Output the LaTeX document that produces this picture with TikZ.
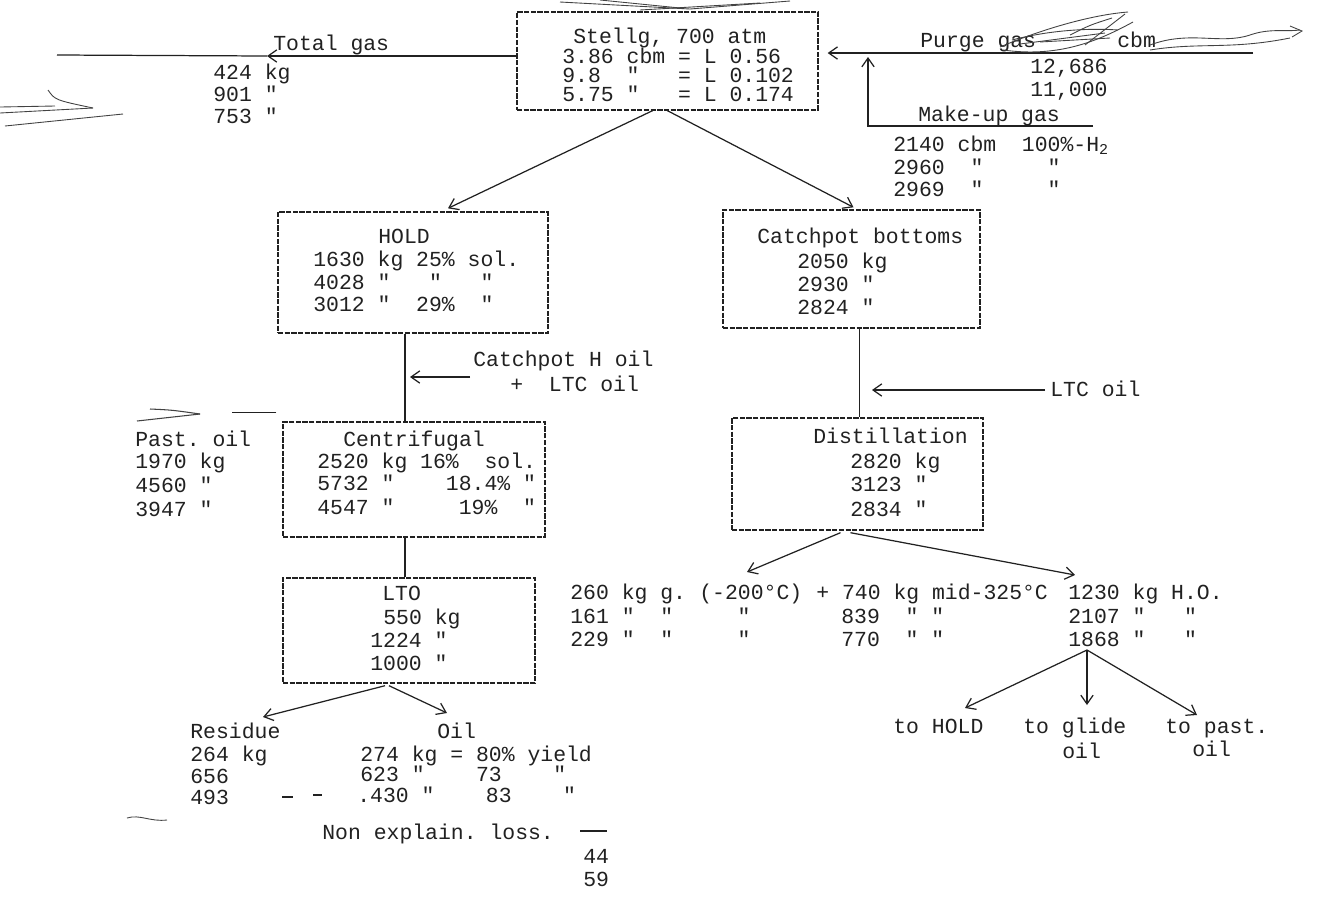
\documentclass[tikz,border=0pt]{standalone}
\usepackage{fontspec}
\setmonofont{Liberation Mono}
\usetikzlibrary{arrows.meta,calc}
\definecolor{ink}{gray}{0.13}
\frenchspacing
\begin{document}
\begin{tikzpicture}[x=0.02cm,y=-0.02cm,
  txt/.style={anchor=west,inner sep=0pt,text=ink,text height=9pt,text depth=2pt,font=\ttfamily\fontsize{12.2}{14}\selectfont},
  bx/.style={draw=ink,line width=0.8pt,dash pattern=on 3pt off 0.8pt,inner sep=0pt},
  arr/.style={draw=ink,line width=0.7pt,-{Straight Barb[length=5pt,width=7pt]}},
  ln/.style={draw=ink,line width=0.7pt},
  scrib/.style={draw=ink!85,line width=0.5pt}]
\useasboundingbox (0,0) rectangle (1323,897);
\fill[white] (0,0) rectangle (1323,897);

% ---------- boxes ----------
\node[bx,minimum width=6.02cm,minimum height=1.96cm] (stellg) at (667.5,61) {};
\node[bx,minimum width=5.40cm,minimum height=2.42cm] (hold) at (413,272.5) {};
\node[bx,minimum width=5.14cm,minimum height=2.36cm] (catch) at (851.5,269) {};
\node[bx,minimum width=5.24cm,minimum height=2.30cm] (cent) at (414,479.5) {};
\node[bx,minimum width=5.02cm,minimum height=2.24cm] (dist) at (857.5,474) {};
\node[bx,minimum width=5.04cm,minimum height=2.10cm] (lto) at (409,630.5) {};

% ---------- Stellg ----------
\node[txt] (st1) at (573,37) {Stellg,~700~atm};
\node[txt] (st2) at (562,57) {3.86~cbm~=~L~0.56};
\node[txt] (st3) at (562,76) {9.8~~"~~~=~L~0.102};
\node[txt] (st4) at (562,95) {5.75~"~~~=~L~0.174};

% ---------- total gas ----------
\node[txt] (tg0) at (273,44) {Total~gas};
\node[txt] (tg1) at (213,73) {424~kg};
\node[txt] (tg2) at (213,95) {901~"};
\node[txt] (tg3) at (213,117) {753~"};
\coordinate (tgT) at (267,56);
\coordinate (tgL) at (57,55);
\draw[arr] ($(stellg.west)+(0,-5)$) -- (tgT);
\draw[ln] (tgT) -- (tgL);

% ---------- purge / make-up ----------
\node[txt] (pg0) at (920,41) {Purge~gas};
\node[txt] (pg1) at (1117,41) {cbm};
\node[txt] (pg2) at (1030,67) {12,686};
\node[txt] (pg3) at (1030,90) {11,000};
\node[txt] (mu0) at (918,115) {Make-up~gas};
\node[txt] (mu1) at (893,145) {2140~cbm~~100\%-H\textsubscript{2}};
\node[txt] (mu2) at (893,168) {2960~~"~~~~~"};
\node[txt] (mu3) at (893,190) {2969~~"~~~~~"};
\coordinate (pgE) at (1253,53);
\draw[arr] (pgE) -- ($(stellg.east)+(9,-8)$);
\coordinate (muA) at (1093,126);
\coordinate (muB) at (868,126);
\coordinate (muC) at (868,57);
\draw[arr] (muA) -- (muB) -- (muC);
% scribbles over purge text
\draw[scrib] (1000,47) .. controls (1040,30) and (1090,15) .. (1128,12);
\draw[scrib] (1003,50) .. controls (1060,58) and (1100,40) .. (1133,22);
\draw[scrib] (1012,40) .. controls (1050,30) and (1090,28) .. (1118,30);
\draw[scrib] (1020,44) -- (1105,33);
\draw[scrib] (1040,42) -- (1110,38);
\draw[scrib] (1085,45) -- (1125,14);
\draw[scrib] (1070,35) .. controls (1090,25) .. (1112,18);
\draw[scrib] (1150,45) .. controls (1190,30) and (1220,45) .. (1250,35) .. controls (1270,28) and (1285,32) .. (1300,30);
\draw[scrib] (1150,50) .. controls (1200,42) and (1230,50) .. (1290,38);
\draw[scrib] (1290,26) -- (1302,31) -- (1292,37);
% scribbles above Stellg box
\draw[scrib] (560,2) -- (690,9);
\draw[scrib] (600,0) -- (680,8);
\draw[scrib] (690,9) -- (790,1);
\draw[scrib] (640,10) -- (760,3);

% ---------- left scribble arrow ----------
\draw[scrib] (0,107) -- (55,106);
\draw[scrib] (0,113) -- (93,108);
\draw[scrib] (5,126) -- (123,114);
\draw[scrib] (48,90) .. controls (55,100) .. (93,108);

% ---------- Stellg to HOLD / Catchpot ----------
\draw[arr] ($(stellg.south)+(-15,0)$) -- ($(hold.north)+(35,-3)$);
\draw[arr] ($(stellg.south)+(0,0)$) -- ($(catch.north)+(2,-2)$);

% ---------- HOLD ----------
\node[txt] (h0) at (378,237) {HOLD};
\node[txt] (h1) at (313,260) {1630~kg~25\%~sol.};
\node[txt] (h2) at (313,283) {4028~"~~~"~~~"};
\node[txt] (h3) at (313,305) {3012~"~~29\%~~"};
\draw[ln] ($(hold.south)+(-8,0)$) -- ($(cent.north)+(-9,0)$);
\node[txt] (co1) at (473,360) {Catchpot~H~oil};
\node[txt] (co2) at (510,385) {+~~LTC~oil};
\coordinate (coS) at (470,377);
\coordinate (coT) at (410,377);
\draw[arr] (coS) -- (coT);

% ---------- Catchpot bottoms ----------
\node[txt] (c0) at (757,237) {Catchpot~bottoms};
\node[txt] (c1) at (797,262) {2050~kg};
\node[txt] (c2) at (797,285) {2930~"};
\node[txt] (c3) at (797,308) {2824~"};
\draw[ln] ($(catch.south)+(8,0)$) -- ($(dist.north)+(2,0)$);
\node[txt] (ltc) at (1050,390) {LTC~oil};
\coordinate (ltcS) at (1045,390);
\coordinate (ltcT) at (872,390);
\draw[arr] (ltcS) -- (ltcT);

% ---------- Centrifugal ----------
\node[txt] (ce0) at (343,440) {Centrifugal};
\node[txt] (ce1) at (317,462) {2520~kg~16\%~~sol.};
\node[txt] (ce2) at (317,484) {5732~"~~~~18.4\%~"};
\node[txt] (ce3) at (317,508) {4547~"~~~~~19\%~~"};
\node[txt] (po0) at (135,440) {Past.~oil};
\node[txt] (po1) at (135,462) {1970~kg};
\node[txt] (po2) at (135,486) {4560~"};
\node[txt] (po3) at (135,510) {3947~"};
\draw[ln] ($(cent.north west)+(-6,-9)$) -- ++(-44,0);
\draw[scrib,line width=0.6pt] (137,421) -- (200,414);
\draw[scrib,line width=0.6pt] (150,409) .. controls (172,410) .. (200,414);
\draw[ln] ($(cent.south)+(-9,0)$) -- ($(lto.north)+(-4,0)$);

% ---------- LTO ----------
\node[txt] (l0) at (382,594) {LTO};
\node[txt] (l1) at (383,618) {550~kg};
\node[txt] (l2) at (370,641) {1224~"};
\node[txt] (l3) at (370,664) {1000~"};
\coordinate (resT) at (263,717);
\coordinate (oilT) at (447,713);
\draw[arr] ($(lto.south)+(-24,2)$) -- (resT);
\draw[arr] ($(lto.south)+(-20,2)$) -- (oilT);
\node[txt] (r0) at (190,732) {Residue};
\node[txt] (r1) at (190,755) {264~kg};
\node[txt] (r2) at (190,777) {656};
\node[txt] (r3) at (190,798) {493};
\node[txt] (o0) at (437,732) {Oil};
\node[txt] (o1) at (360,755) {274~kg~=~80\%~yield};
\node[txt] (o2) at (360,775) {623~"~~~~73~~~~"};
\node[txt] (o3) at (357,796) {.430~"~~~~83~~~~"};
\draw[ln] (282,797) -- (293,797);
\draw[ln] (313,795) -- (322,795);
\draw[scrib] (127,818) .. controls (140,814) and (150,822) .. (167,820);
\node[txt] (nl) at (322,833) {Non~explain.~loss.};
\coordinate (nlA) at (580,831);
\coordinate (nlB) at (607,831);
\draw[ln] (nlA) -- (nlB);
\node[txt] (nl2) at (583,857) {44};
\node[txt] (nl3) at (583,880) {59};

% ---------- Distillation ----------
\node[txt] (d0) at (813,437) {Distillation};
\node[txt] (d1) at (850,462) {2820~kg};
\node[txt] (d2) at (850,485) {3123~"};
\node[txt] (d3) at (850,510) {2834~"};
\coordinate (dL) at (747,572);
\coordinate (dR) at (1075,575);
\draw[arr] ($(dist.south)+(-17,2)$) -- (dL);
\draw[arr] ($(dist.south)+(-7,2)$) -- (dR);

\node[txt] (p1a) at (570,593) {260~kg~g.};
\node[txt] (p1b) at (699,593) {(-200°C)};
\node[txt] (p1c) at (816,593) {+~740~kg~mid-325°C};
\node[txt] (p1d) at (1068,593) {1230~kg~H.O.};
\node[txt] (p2a) at (570,617) {161~"~~"~~~~~"};
\node[txt] (p2c) at (841,617) {839~~"~"};
\node[txt] (p2d) at (1068,617) {2107~"~~~"};
\node[txt] (p3a) at (570,640) {229~"~~"~~~~~"};
\node[txt] (p3c) at (841,640) {770~~"~"};
\node[txt] (p3d) at (1068,640) {1868~"~~~"};

% ---------- lower right tree ----------
\coordinate (root) at (1087,650);
\coordinate (t1) at (965,708);
\coordinate (t2) at (1087,705);
\coordinate (t3) at (1197,715);
\draw[arr] (root) -- (t1);
\draw[arr] (root) -- (t2);
\draw[arr] (root) -- (t3);
\node[txt] (u1) at (893,727) {to~HOLD};
\node[txt] (u2) at (1023,727) {to~glide};
\node[txt] (u2b) at (1062,752) {oil};
\node[txt] (u3) at (1165,727) {to~past.};
\node[txt] (u3b) at (1192,750) {oil};
\end{tikzpicture}
\end{document}
